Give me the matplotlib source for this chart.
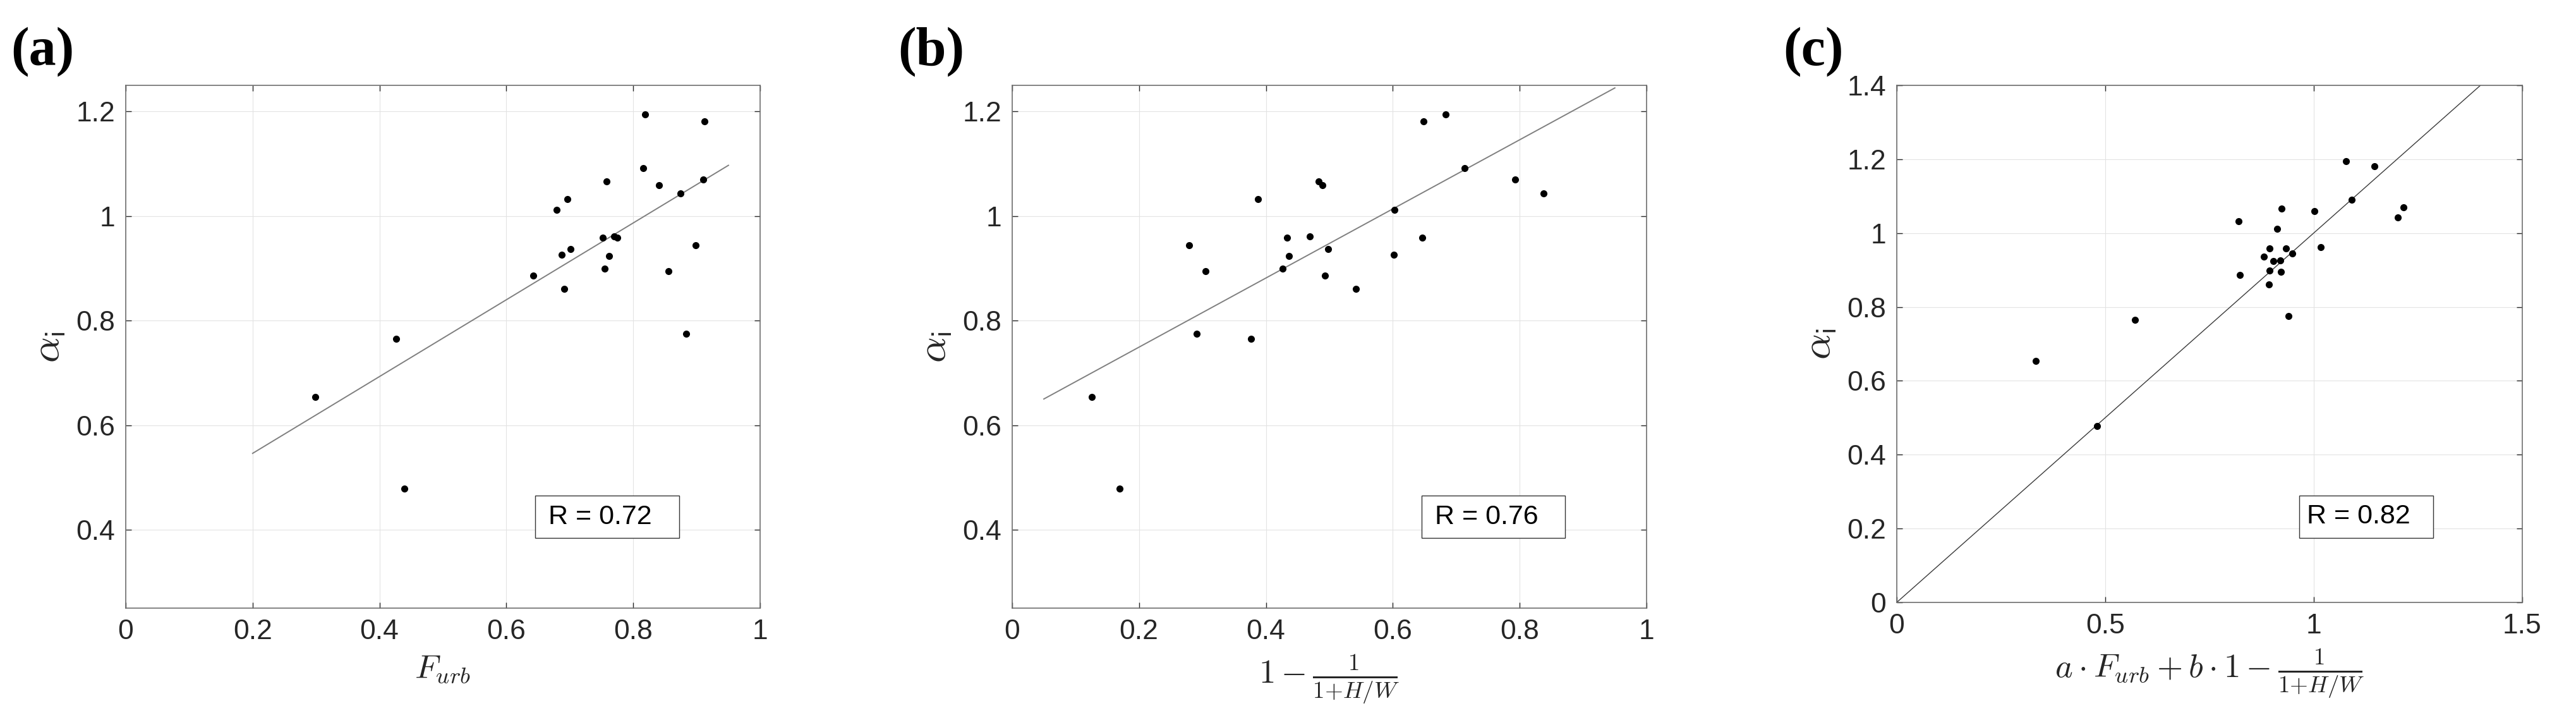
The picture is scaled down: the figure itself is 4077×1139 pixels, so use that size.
import matplotlib
matplotlib.use("Agg")
import matplotlib.pyplot as plt
from matplotlib.patches import Rectangle
from matplotlib.ticker import FuncFormatter

# measured alpha_i per site (same for all three panels)
alpha = [0.654, 0.765, 0.478, 0.886, 1.012, 1.032, 0.926, 0.937, 0.861, 1.066, 0.958, 0.899,
         0.924, 0.961, 0.959, 1.091, 1.194, 1.059, 0.895, 1.043, 0.775, 0.944, 1.070, 1.181]

# x values of each panel
f_urb = [0.299, 0.426, 0.439, 0.642, 0.679, 0.696, 0.687, 0.701, 0.691, 0.758, 0.752, 0.755,
         0.762, 0.770, 0.775, 0.816, 0.819, 0.841, 0.855, 0.874, 0.883, 0.898, 0.910, 0.912]
hw_term = [0.126, 0.377, 0.169, 0.493, 0.603, 0.388, 0.602, 0.498, 0.542, 0.483, 0.433, 0.426,
           0.436, 0.469, 0.646, 0.713, 0.683, 0.489, 0.305, 0.838, 0.291, 0.279, 0.793, 0.648]
combined = [0.333, 0.572, 0.481, 0.823, 0.913, 0.820, 0.920, 0.880, 0.892, 0.923, 0.894, 0.894,
            0.904, 1.017, 0.933, 1.091, 1.078, 1.002, 0.921, 1.202, 0.940, 0.948, 1.215, 1.145]

# fitted lines (end points)
fit_a_x = [0.2, 0.95]
fit_a_y = [0.546, 1.097]
fit_b_x = [0.05, 0.95]
fit_b_y = [0.650, 1.245]
fit_c_x = [0.0, 1.4]
fit_c_y = [0.0, 1.4]

r_values = ["R = 0.72", "R = 0.76", "R = 0.82"]
panel_names = ["(a)", "(b)", "(c)"]
x_labels = [r"$F_{urb}$",
            r"$1 - \frac{1}{1{+}H/W}$",
            r"$a \cdot F_{urb} + b \cdot 1 - \frac{1}{1{+}H/W}$"]

plt.rcParams['mathtext.fontset'] = 'cm'
plt.rcParams['font.family'] = ['Liberation Sans', 'DejaVu Sans']

TICK_SIZE = 32
LABEL_SIZE = 38


def StyleAxes(ax, xlim, ylim, xticks, yticks):
	ax.set_xlim(xlim)
	ax.set_ylim(ylim)
	ax.set_xticks(xticks)
	ax.set_yticks(yticks)
	fmt = FuncFormatter(lambda v, p: "%g" % round(v, 2))
	ax.xaxis.set_major_formatter(fmt)
	ax.yaxis.set_major_formatter(fmt)
	ax.grid(True, color='#e3e3e3', linewidth=0.8)
	ax.set_axisbelow(True)
	ax.tick_params(direction='in', length=6.5, width=1.0, color='#262626',
	               labelsize=TICK_SIZE, labelcolor='#262626', top=True, right=True, pad=12)
	for s in ax.spines.values():
		s.set_color('#6e6e6e')
		s.set_linewidth(1.2)


def DrawRBox(ax, text, x0, x1, y0, y1, tx):
	ax.add_patch(Rectangle((x0, y0), x1 - x0, y1 - y0, transform=ax.transAxes,
	                       facecolor='white', edgecolor='#333333', linewidth=1.0, zorder=4))
	ax.text(tx, (y0 + y1) / 2, text, transform=ax.transAxes, fontsize=31,
	        ha='left', va='center', color='black', zorder=5)


def main():
	fig = plt.figure(figsize=(40.77, 11.39), dpi=100)

	ax_a = fig.add_axes([0.0488, 0.1554, 0.2463, 0.7261])
	ax_b = fig.add_axes([0.3929, 0.1554, 0.2463, 0.7261])
	ax_c = fig.add_axes([0.7363, 0.1633, 0.2428, 0.7182])

	# (a)
	ax_a.plot(fit_a_x, fit_a_y, color='#7f7f7f', linewidth=1.4, zorder=2)
	ax_a.plot(f_urb, alpha, 'o', color='black', markersize=7, zorder=3)
	StyleAxes(ax_a, (0, 1), (0.25, 1.25), [0, 0.2, 0.4, 0.6, 0.8, 1], [0.4, 0.6, 0.8, 1.0, 1.2])
	DrawRBox(ax_a, r_values[0], 0.645, 0.872, 0.134, 0.215, 0.666)

	# (b)
	ax_b.plot(fit_b_x, fit_b_y, color='#7f7f7f', linewidth=1.4, zorder=2)
	ax_b.plot(hw_term, alpha, 'o', color='black', markersize=7, zorder=3)
	StyleAxes(ax_b, (0, 1), (0.25, 1.25), [0, 0.2, 0.4, 0.6, 0.8, 1], [0.4, 0.6, 0.8, 1.0, 1.2])
	DrawRBox(ax_b, r_values[1], 0.645, 0.872, 0.134, 0.215, 0.666)

	# (c)
	ax_c.plot(fit_c_x, fit_c_y, color='#3a3a3a', linewidth=1.0, zorder=2)
	ax_c.plot(combined, alpha, 'o', color='black', markersize=7, zorder=3)
	StyleAxes(ax_c, (0, 1.5), (0, 1.4), [0, 0.5, 1, 1.5], [0, 0.2, 0.4, 0.6, 0.8, 1.0, 1.2, 1.4])
	DrawRBox(ax_c, r_values[2], 0.644, 0.858, 0.125, 0.207, 0.656)

	for ax, xl in zip([ax_a, ax_b, ax_c], x_labels):
		ax.set_xlabel(xl, fontsize=LABEL_SIZE, color='#262626', labelpad=10)
		ax.set_ylabel(r"$\alpha_\mathsf{i}$", fontsize=46, color='#262626', labelpad=10)

	# panel letters
	for name, xpos in zip(panel_names, [0.0042, 0.3485, 0.6922]):
		fig.text(xpos, 0.928, name, fontsize=62, fontweight='bold',
		         family='Liberation Serif', ha='left', va='center')

	fig.savefig("out.png", dpi=100, facecolor='white')
	plt.close(fig)


if __name__ == "__main__":
	main()
